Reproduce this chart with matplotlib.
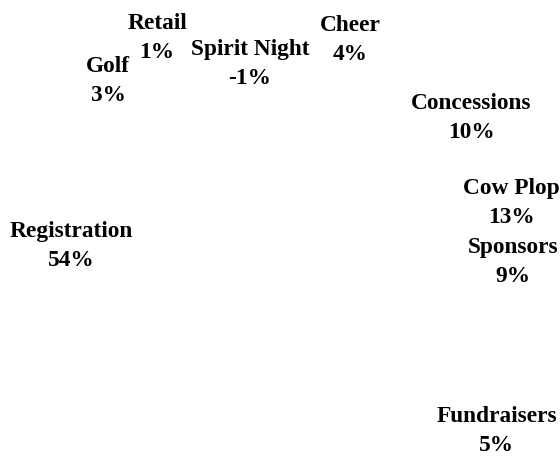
import matplotlib
matplotlib.use("Agg")
import matplotlib.pyplot as plt

# pie data (slices are drawn white in the original, only the labels show)
categories = ["Cheer", "Concessions", "Cow Plop", "Sponsors", "Fundraisers",
              "Registration", "Golf", "Retail", "Spirit Night"]
percents = [4, 10, 13, 9, 5, 54, 3, 1, -1]

# label spots, in pixels from the top-left (labels were dragged by hand)
label_xy = [(350, 40), (471, 118), (511, 203), (513, 262), (497, 431),
            (71, 246), (108, 81), (157, 38), (250, 64)]

fig = plt.figure(figsize=(5.6, 4.57), dpi=100)

# invisible pie - white wedges on white background
pax = fig.add_axes([0.2, 0.12, 0.6, 0.75])
pax.pie([abs(p) for p in percents], colors=["white"] * len(percents),
        startangle=90, counterclock=False)

# label layer in pixel coords
ax = fig.add_axes([0, 0, 1, 1])
ax.set_xlim(0, 560)
ax.set_ylim(457, 0)
ax.axis("off")
for name, p, (x, y) in zip(categories, percents, label_xy):
    ax.text(x, y, f"{name}\n{p}%", ha="center", va="center", multialignment="center",
            fontsize=16.8, fontweight="bold", family="Liberation Serif", linespacing=1.45)

fig.savefig("out.png", dpi=100)
